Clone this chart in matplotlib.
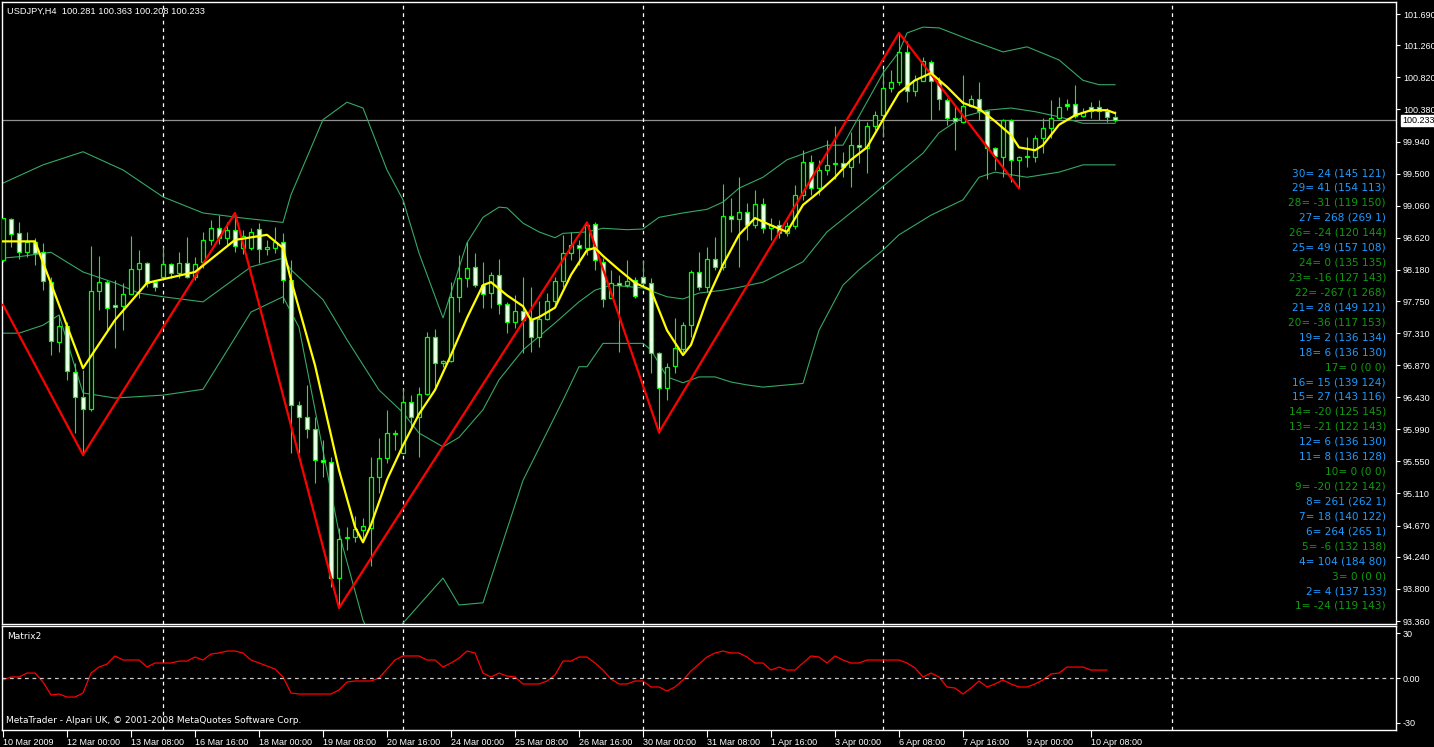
import numpy as np
import matplotlib.pyplot as plt

# USDJPY H4 candles, bar 0 = 10 Mar 2009 16:00
opens = [98.31, 98.88, 98.68, 98.42, 98.56, 98.42, 98.01, 97.19, 97.41, 96.78,
         96.43, 96.27, 97.89, 98.01, 97.70, 97.68, 97.85, 98.19, 98.27, 98.01,
         98.08, 98.26, 98.14, 98.27, 98.08, 98.29, 98.59, 98.75, 98.62, 98.73,
         98.48, 98.48, 98.74, 98.47, 98.48, 98.56, 98.04, 96.32, 96.16, 95.99,
         95.57, 95.54, 93.95, 94.50, 94.51, 94.61, 94.64, 95.34, 95.60, 95.94,
         95.67, 96.37, 96.16, 96.47, 97.26, 96.90, 96.93, 97.81, 98.07, 98.22,
         97.97, 97.86, 98.11, 97.71, 97.46, 97.61, 97.50, 97.26, 97.50, 97.75,
         98.03, 98.41, 98.52, 98.48, 98.81, 98.29, 97.79, 98.00, 97.97, 98.04,
         98.08, 98.00, 97.04, 96.56, 96.86, 97.09, 97.42, 98.15, 97.94, 98.33,
         98.22, 98.92, 98.88, 98.97, 98.79, 99.08, 98.75, 98.79, 98.68, 98.78,
         99.21, 99.66, 99.30, 99.55, 99.63, 99.65, 99.59, 99.89, 99.85, 100.15,
         100.30, 100.67, 100.76, 101.17, 100.63, 100.77, 101.03, 100.77, 100.51, 100.26,
         100.21, 100.43, 100.52, 100.36, 99.85, 99.73, 100.23, 99.69, 99.73, 99.73,
         99.99, 100.13, 100.26, 100.45, 100.45, 100.29, 100.41, 100.41, 100.36, 100.281]
highs = [98.89, 98.89, 98.84, 98.70, 98.62, 98.55, 98.08, 97.56, 97.46, 96.90,
         96.80, 98.51, 98.37, 98.04, 98.04, 98.00, 98.64, 98.45, 98.29, 98.04,
         98.49, 98.27, 98.42, 98.63, 98.36, 98.70, 98.86, 98.93, 98.84, 98.96,
         98.73, 98.75, 98.82, 98.59, 98.77, 98.68, 98.31, 96.38, 96.60, 96.16,
         95.84, 95.61, 94.64, 94.65, 94.80, 94.77, 95.61, 95.87, 96.26, 95.98,
         96.54, 96.46, 96.57, 97.33, 97.37, 96.94, 98.01, 98.38, 98.56, 98.41,
         98.29, 98.15, 98.33, 97.74, 97.83, 98.08, 97.94, 97.75, 97.86, 98.08,
         98.66, 98.70, 98.59, 98.83, 98.83, 98.34, 98.18, 98.11, 98.31, 98.08,
         98.31, 98.07, 97.05, 96.90, 97.52, 97.47, 98.18, 98.42, 98.49, 98.63,
         99.36, 99.16, 99.45, 99.10, 99.27, 99.16, 98.89, 98.86, 98.83, 99.34,
         99.82, 99.75, 99.69, 99.96, 100.15, 99.80, 100.07, 100.25, 100.21, 100.36,
         100.93, 100.92, 101.43, 101.32, 100.85, 101.10, 101.06, 100.83, 100.54, 100.44,
         100.85, 100.58, 100.76, 100.37, 99.86, 100.25, 100.25, 99.74, 100.00, 100.03,
         100.26, 100.51, 100.55, 100.52, 100.72, 100.40, 100.48, 100.51, 100.40, 100.363]
lows = [98.29, 98.49, 98.33, 98.36, 98.25, 97.90, 97.01, 97.05, 96.67, 95.94,
        95.64, 96.24, 97.63, 97.35, 97.11, 97.35, 97.85, 97.79, 97.94, 97.89,
        98.04, 98.07, 98.07, 98.07, 98.04, 98.20, 98.52, 98.53, 98.51, 98.42,
        98.40, 98.45, 98.27, 98.38, 98.41, 97.72, 95.67, 95.67, 95.87, 95.25,
        95.34, 93.83, 93.54, 94.33, 94.44, 94.46, 94.11, 95.12, 95.53, 95.71,
        95.67, 96.02, 95.61, 96.46, 96.57, 96.85, 96.91, 97.60, 97.94, 97.94,
        97.66, 97.66, 97.57, 97.31, 97.38, 97.04, 97.05, 97.12, 97.49, 97.70,
        97.94, 98.31, 98.25, 98.38, 98.18, 97.67, 97.79, 97.05, 97.94, 97.79,
        97.97, 96.76, 95.94, 96.39, 96.76, 97.05, 97.26, 97.90, 97.87, 98.18,
        98.18, 98.70, 98.22, 98.59, 98.75, 98.68, 98.59, 98.62, 98.64, 98.74,
        99.14, 99.21, 99.21, 99.48, 99.42, 99.45, 99.32, 99.65, 99.51, 100.10,
        100.00, 100.62, 100.72, 100.48, 100.56, 100.77, 100.24, 100.37, 100.17, 99.82,
        100.19, 100.41, 100.24, 99.42, 99.55, 99.45, 99.38, 99.30, 99.59, 99.66,
        99.78, 99.99, 100.25, 100.37, 100.26, 100.28, 100.26, 100.24, 100.21, 100.208]
closes = [98.89, 98.67, 98.42, 98.56, 98.41, 98.03, 97.20, 97.41, 96.79, 96.43,
          96.27, 97.89, 98.01, 97.66, 97.67, 97.85, 98.19, 98.27, 98.00, 97.94,
          98.26, 98.14, 98.27, 98.08, 98.26, 98.59, 98.75, 98.62, 98.73, 98.51,
          98.64, 98.70, 98.47, 98.49, 98.56, 98.04, 96.32, 96.16, 95.99, 95.57,
          95.54, 93.95, 94.49, 94.51, 94.62, 94.66, 95.34, 95.60, 95.94, 95.93,
          96.37, 96.16, 96.47, 97.26, 96.90, 96.93, 97.81, 98.07, 98.20, 97.97,
          97.85, 98.11, 97.71, 97.46, 97.61, 97.49, 97.26, 97.50, 97.75, 98.03,
          98.41, 98.52, 98.48, 98.79, 98.31, 97.78, 98.00, 97.97, 98.02, 97.82,
          98.00, 97.04, 96.56, 96.85, 97.11, 97.42, 98.15, 97.94, 98.33, 98.22,
          98.92, 98.88, 98.97, 98.79, 99.08, 98.75, 98.79, 98.68, 98.78, 99.21,
          99.66, 99.30, 99.55, 99.62, 99.64, 99.59, 99.89, 99.86, 100.15, 100.30,
          100.67, 100.76, 101.17, 100.63, 100.78, 101.04, 100.77, 100.52, 100.26, 100.22,
          100.43, 100.52, 100.36, 99.85, 99.74, 100.23, 99.69, 99.73, 99.74, 99.99,
          100.13, 100.26, 100.41, 100.43, 100.29, 100.34, 100.36, 100.36, 100.28, 100.233]

# yellow moving average (bar, price)
ma_bar = [0, 4, 10, 14, 18, 24, 29, 33, 35, 36, 39, 42, 44, 45, 46, 48, 50, 52, 54, 56,
          58, 60, 61, 63, 65, 66, 67, 69, 71, 73, 74, 75, 77, 79, 81, 83, 85, 86, 88, 90,
          92, 94, 96, 98, 100, 102, 104, 106, 108, 110, 112, 114, 116, 118, 120, 122, 124,
          126, 127, 129, 130, 132, 134, 136, 138, 139]
ma_val = [98.57, 98.57, 96.83, 97.49, 98.00, 98.15, 98.59, 98.66, 98.48, 98.04, 96.87,
          95.43, 94.65, 94.44, 94.68, 95.30, 95.77, 96.20, 96.53, 97.01, 97.52, 97.97,
          98.01, 97.83, 97.68, 97.49, 97.53, 97.66, 98.11, 98.45, 98.48, 98.37, 98.18,
          98.00, 97.90, 97.35, 97.01, 97.15, 97.77, 98.25, 98.66, 98.89, 98.79, 98.70,
          99.07, 99.25, 99.45, 99.69, 99.86, 100.24, 100.61, 100.78, 100.88, 100.69,
          100.47, 100.39, 100.22, 100.03, 99.86, 99.82, 99.89, 100.17, 100.30, 100.37,
          100.37, 100.33]

# zigzag turning points
zz_bar = [0, 10, 29, 42, 73, 82, 112, 127]
zz_val = [97.70, 95.64, 98.96, 93.54, 98.83, 95.95, 101.43, 99.30]

# bands (bar, price)
up_bar = [0, 5, 10, 15, 20, 25, 30, 35, 36, 40, 43, 45, 48, 50, 52, 55, 58, 60, 62, 63,
          65, 67, 69, 70, 73, 75, 78, 80, 82, 85, 88, 90, 92, 95, 98, 103, 105, 110, 112,
          113, 115, 117, 121, 125, 128, 132, 135, 137, 139]
up_val = [99.37, 99.62, 99.80, 99.55, 99.18, 98.96, 98.89, 98.83, 99.21, 100.24, 100.48,
          100.40, 99.55, 99.14, 98.41, 97.52, 98.55, 98.90, 99.04, 99.03, 98.82, 98.70,
          98.62, 98.68, 98.70, 98.75, 98.73, 98.74, 98.90, 98.96, 99.01, 99.11, 99.30,
          99.45, 99.69, 99.89, 99.89, 100.88, 101.17, 101.43, 101.51, 101.50, 101.33,
          101.17, 101.24, 101.06, 100.78, 100.72, 100.72]
mid_bar = [0, 2, 6, 10, 14, 17, 20, 25, 31, 35, 36, 40, 43, 47, 50, 52, 55, 57, 60, 62,
           65, 69, 72, 74, 76, 80, 83, 85, 87, 90, 92, 95, 100, 103, 108, 112, 115, 117,
           120, 123, 126, 129, 132, 135, 139]
mid_val = [98.34, 98.36, 98.42, 98.15, 98.00, 97.86, 97.81, 97.74, 98.22, 98.34, 98.18,
           97.77, 97.22, 96.53, 96.22, 95.94, 95.75, 95.88, 96.26, 96.67, 97.08, 97.45,
           97.74, 97.90, 97.97, 97.93, 97.81, 97.78, 97.86, 97.90, 97.94, 98.01, 98.29,
           98.70, 99.14, 99.51, 99.78, 100.06, 100.28, 100.37, 100.40, 100.35, 100.28,
           100.19, 100.19]
lo_bar = [0, 2, 5, 7, 10, 14, 20, 25, 31, 35, 37, 42, 45, 47, 50, 55, 57, 60, 65, 70, 72,
          73, 75, 80, 81, 83, 85, 87, 89, 91, 93, 95, 100, 102, 105, 107, 110, 112, 116,
          120, 122, 124, 128, 132, 135, 139]
lo_val = [97.31, 97.31, 97.42, 97.56, 96.49, 96.42, 96.46, 96.54, 97.60, 97.81, 97.39,
          94.57, 93.37, 92.90, 93.33, 93.95, 93.58, 93.61, 95.29, 96.39, 96.85, 96.85,
          97.17, 97.17, 97.08, 96.71, 96.63, 96.71, 96.71, 96.64, 96.60, 96.57, 96.62,
          97.35, 97.97, 98.18, 98.45, 98.66, 98.93, 99.14, 99.45, 99.52, 99.45, 99.52,
          99.62, 99.62]

# Matrix2 indicator, one value per bar
matrix2 = [-1.3, 0.7, 0.7, 3.3, 3.3, -2.7, -11.3, -10.7, -12.7, -12.7,
           -10, 3.3, 7.3, 9.3, 14.7, 12, 12, 12, 7.3, 10,
           10, 10, 11.3, 11.3, 14, 12, 16, 16.7, 18, 18,
           16.7, 12, 10, 8, 6, 0.7, -10, -10.7, -10.7, -10.7,
           -10.7, -10.7, -8, -2.7, -2, -2, -2, 0, 6, 12,
           14.7, 14.7, 14.7, 12, 12, 7.3, 10, 13.3, 18, 16.7,
           3.3, 0.7, 3.3, 1.3, 0.7, -4, -4, -4, -2, 2,
           11.3, 11.3, 14, 14, 10, 5.3, -0.7, -4, -4, -2,
           -2, -6, -6, -8.7, -6, -1.3, 4.7, 9.3, 14, 16.7,
           18, 16.7, 16.7, 14, 10, 10, 5.3, 7.3, 5.3, 5.3,
           10, 14.7, 14, 10, 14.7, 12, 10, 10, 12, 12,
           12, 12, 12, 10, 6.7, 0.7, 3.3, 0.7, -6, -6.7,
           -10.7, -6.7, -2, -6, -4, -1.3, -4, -6, -6, -4,
           -1.3, 2.7, 3.3, 7.3, 7.3, 7.3, 5.3, 5.3, 5.3]

# text block on the right
row_id = list(range(30, 0, -1))
row_diff = [24, 41, -31, 268, -24, 49, 0, -16, -267, 28, -36, 2, 6, 0, 15,
            27, -20, -21, 6, 8, 0, -20, 261, 18, 264, -6, 104, 0, 4, -24]
row_a = [145, 154, 119, 269, 120, 157, 135, 127, 1, 149, 117, 136, 136, 0, 139,
         143, 125, 122, 136, 136, 0, 122, 262, 140, 265, 132, 184, 0, 137, 119]
row_b = [121, 113, 150, 1, 144, 108, 135, 143, 268, 121, 153, 134, 130, 0, 124,
         116, 145, 143, 130, 128, 0, 142, 1, 122, 1, 138, 80, 0, 133, 143]

price_ticks = [101.69, 101.26, 100.82, 100.38, 99.94, 99.50, 99.06, 98.62, 98.18,
               97.75, 97.31, 96.87, 96.43, 95.99, 95.55, 95.11, 94.67, 94.24, 93.80, 93.36]
date_bars = list(range(0, 137, 8))
date_labels = ["10 Mar 2009", "12 Mar 00:00", "13 Mar 08:00", "16 Mar 16:00", "18 Mar 00:00",
               "19 Mar 08:00", "20 Mar 16:00", "24 Mar 00:00", "25 Mar 08:00", "26 Mar 16:00",
               "30 Mar 00:00", "31 Mar 08:00", "1 Apr 16:00", "3 Apr 00:00", "6 Apr 08:00",
               "7 Apr 16:00", "9 Apr 00:00", "10 Apr 08:00"]
week_bars = [20, 50, 80, 110, 146.1]
last_price = 100.233

W, H = 1434, 747
fig = plt.figure(figsize=(W / 100, H / 100), dpi=100, facecolor="black")
plt.rcParams["font.family"] = ["DejaVu Sans"]
small = "Liberation Sans"


def fx(px):
    return px / W


def fy(py):
    return 1 - py / H


ax = fig.add_axes([fx(2), fy(624), fx(1396) - fx(2), fy(2) - fy(624)], facecolor="black")
ax2 = fig.add_axes([fx(2), fy(730), fx(1396) - fx(2), fy(626) - fy(730)], facecolor="black")

xl = (-0.125, 174.125)
o = np.array(opens)
c = np.array(closes)
k = np.arange(len(o))
green = "#00ff00"

# candles
ax.vlines(k, lows, highs, color=green, lw=0.8, zorder=2)
body_lo = np.minimum(o, c)
body_h = np.maximum(np.abs(c - o), 0.004)
ax.bar(k, body_h, bottom=body_lo, width=0.55,
       color=np.where(c >= o, "black", "white"), edgecolor=green, linewidth=0.9, zorder=3)

band_col = "#36a865"
ax.plot(up_bar, up_val, color=band_col, lw=0.8, zorder=1)
ax.plot(mid_bar, mid_val, color=band_col, lw=0.8, zorder=1)
ax.plot(lo_bar, lo_val, color=band_col, lw=0.8, zorder=1)
ax.plot(zz_bar, zz_val, color="red", lw=1.6, zorder=4)
ax.plot(ma_bar, ma_val, color="yellow", lw=1.6, zorder=5)

ax.axhline(last_price, color="#909090", lw=0.9, zorder=0)
for wb in week_bars:
    ax.axvline(wb, color="white", lw=0.9, ls=(0, (3, 3)), zorder=0)
    ax2.axvline(wb, color="white", lw=0.9, ls=(0, (3, 3)), zorder=0)

ax.set_xlim(*xl)
ax.set_ylim(93.319, 101.855)
ax.set_xticks([])
ax.yaxis.tick_right()
ax.set_yticks(price_ticks)
ax.set_yticklabels(["%.3f" % p for p in price_ticks], family=small)
ax.tick_params(axis="y", colors="white", length=3, width=0.8, pad=2, labelsize=6.5)

ax.annotate("%.3f" % last_price, xy=(1.0, last_price), xycoords=("axes fraction", "data"),
            xytext=(6, 0), textcoords="offset pixels", ha="left", va="center",
            color="black", fontsize=6.5, family=small,
            bbox=dict(boxstyle="square,pad=0.12", fc="white", ec="white"), zorder=10,
            annotation_clip=False)

# lower panel
ax2.plot(k[:len(matrix2)], matrix2, color="red", lw=0.9)
ax2.axhline(0, color="#c8c8c8", lw=0.9, ls=(0, (3, 3)))
ax2.set_xlim(*xl)
ax2.set_ylim(-34.7, 34.7)
ax2.yaxis.tick_right()
ax2.set_yticks([30, 0, -30])
ax2.set_yticklabels(["30", "0.00", "-30"], family=small)
ax2.tick_params(axis="y", colors="white", length=3, width=0.8, pad=2, labelsize=6.5)
ax2.set_xticks(date_bars)
ax2.set_xticklabels(date_labels, family=small)
ax2.tick_params(axis="x", colors="white", length=5, width=0.8, pad=1, labelsize=6.5)
for lb in ax2.get_xticklabels():
    lb.set_ha("left")

for a in (ax, ax2):
    for s in a.spines.values():
        s.set_color("white")
        s.set_linewidth(1)

ax2.text(0.004, 0.90, "Matrix2", transform=ax2.transAxes, color="white",
         fontsize=6.5, va="center")
ax2.text(0.003, 0.09, "MetaTrader - Alpari UK, \u00a9 2001-2008 MetaQuotes Software Corp.",
         transform=ax2.transAxes, color="white", fontsize=6.5, va="center")

fig.text(fx(7), fy(11), "USDJPY,H4  100.281 100.363 100.208 100.233", color="white",
         fontsize=6.7, family=small, va="center")

for i, rid in enumerate(row_id):
    d = row_diff[i]
    col = "#1e9bff" if d > 0 else "#119a11"
    fig.text(fx(1386), fy(173 + i * 14.93), "%d= %d (%d %d)" % (rid, d, row_a[i], row_b[i]),
             color=col, fontsize=7.6, ha="right", va="center")

fig.savefig("out.png", dpi=100, facecolor="black")
